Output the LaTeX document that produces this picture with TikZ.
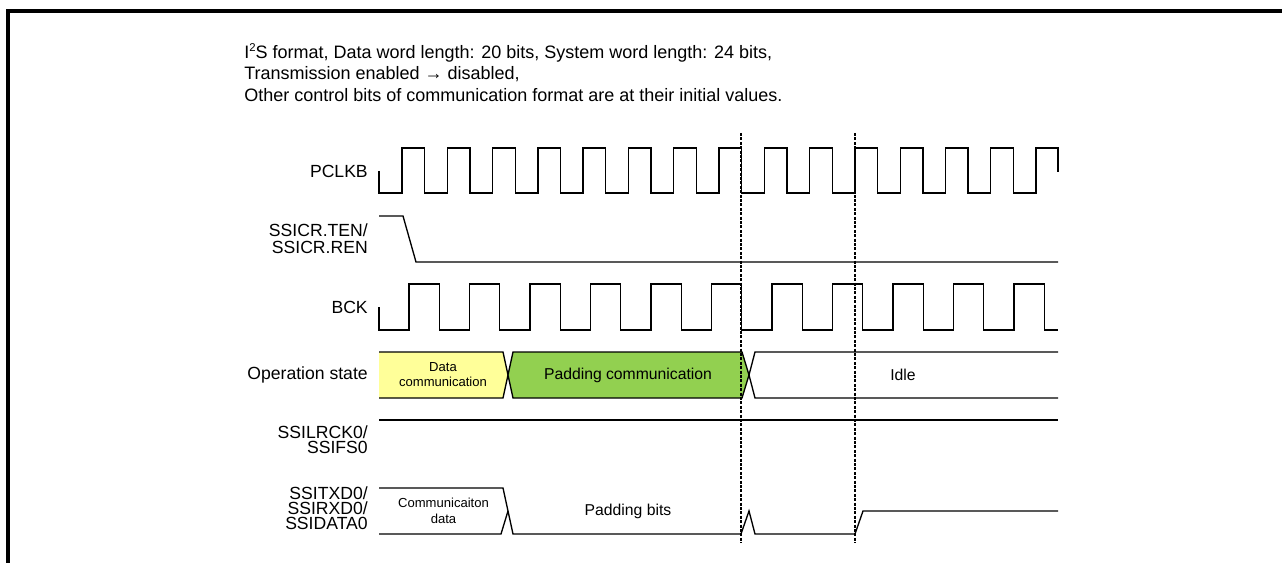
\documentclass[tikz,border=0pt]{standalone}
\usepackage{fontspec}
\setmainfont{Liberation Sans}
\usepackage{tikz}
\usetikzlibrary{positioning, calc}
\usepackage{xcolor}
\definecolor{datayellow}{HTML}{FFFF99}
\definecolor{padgreen}{HTML}{92D050}
\tikzset{
    wave/.style={line width=1pt, line join=miter},
    marker/.style={line width=2pt, dash pattern=on 2.2pt off 1.1pt},
    siglabel/.style={anchor=east, align=right, inner sep=0pt, font=\fontsize{13.2}{11.4}\selectfont},
    boxtext/.style={inner sep=0pt, align=center, font=\fontsize{9.8}{11.7}\selectfont},
    midtext/.style={inner sep=0pt, font=\fontsize{11.8}{14}\selectfont}
}

\begin{document}
\begin{tikzpicture}[x=0.75pt, y=-0.75pt]
        \useasboundingbox (0,0) rectangle (1282,563);
        \draw[line width=2.5pt] (8,563) -- (8,11) -- (1282,11);
        \node[anchor=north west, inner sep=0pt, align=left, font=\fontsize{13.5}{16.1}\selectfont] (title) at (244,43.5)
            {I\raisebox{0.38em}{\fontsize{8.5}{8.5}\selectfont 2}S format, Data word length: 20 bits, System word length: 24 bits,\\
             Transmission enabled → disabled,\\
             Other control bits of communication format are at their initial values.};

        \node[siglabel] (pclkb) at (368,171) {PCLKB};
        \node[siglabel, font=\fontsize{13.2}{12.75}\selectfont] (ten) at (368,239) {SSICR.TEN/\\SSICR.REN};
        \node[siglabel] (bck) at (368,307) {BCK};
        \node[siglabel] (opstate) at (368,375) {Operation state};
        \node[siglabel] (lrck) at (368,440) {SSILRCK0/\\SSIFS0};
        \node[siglabel] (txd) at (368,508) {SSITXD0/\\SSIRXD0/\\SSIDATA0};

        \draw[wave] (379,171) -- (379,193)
            foreach \k in {0,...,13} { -- (402+45.29*\k,193) -- ++(0,-45) -- ++(22.64,0) -- ++(0,45) }
            -- (1036,193) -- (1036,148) -- (1058,148) -- (1058,172);
        \draw[wave] (379,216) -- (403,216) -- (416,262) -- (1058,262);
        \draw[wave] (379,307) -- (379,330)
            foreach \k in {0,...,10} { -- (409+60.5*\k,330) -- ++(0,-46) -- ++(30.25,0) -- ++(0,46) }
            -- (1058,330);

        \draw[wave, fill=datayellow] (379,352) -- (503,352) -- (508,375) -- (503,398) -- (379,398);
        \draw[wave, fill=padgreen] (508,375) -- (513,352) -- (742,352) -- (749,375) -- (742,398) -- (513,398) -- cycle;
        \draw[wave] (1058,352) -- (755,352) -- (749,375) -- (755,398) -- (1058,398);
        \node[boxtext] (datacomm) at (443,374.5) {Data\\communication};
        \node[midtext] (padcomm) at (628,375) {Padding communication};
        \node[midtext] (idle) at (903,375) {Idle};

        \draw[wave] (379,420) -- (1058,420);

        \draw[wave] (379,488) -- (503,488) -- (513,534) -- (741,534) -- (749,511) -- (755,534) -- (855,534) -- (863,511) -- (1058,511);
        \draw[wave] (379,534) -- (501,534) -- (508,511);
        \node[boxtext] (commdata) at (443.5,511) {Communicaiton\\data};
        \node[midtext] (padbits) at (628,511) {Padding bits};

        \foreach \xm in {741,855}
            \draw[marker] (\xm,133) -- (\xm,543);
\end{tikzpicture}
\end{document}
